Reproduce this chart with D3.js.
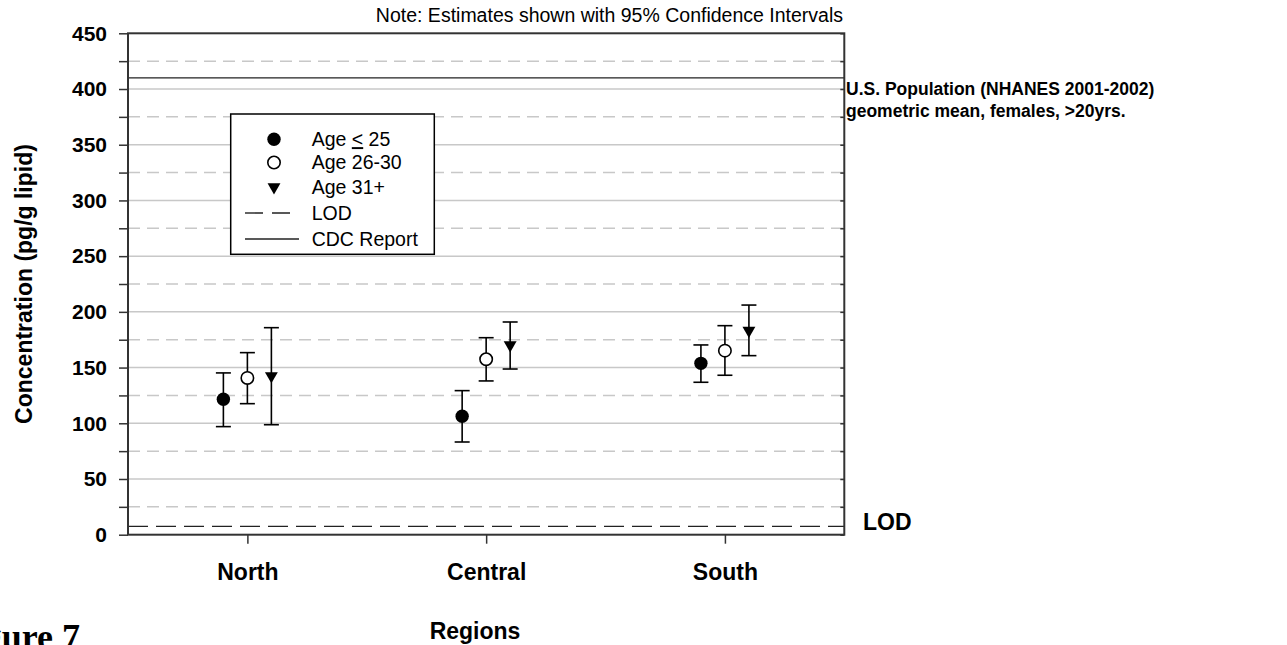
<!DOCTYPE html>
<html>
<head>
<meta charset="utf-8">
<script src="https://cdn.jsdelivr.net/npm/d3@7"></script>
<style>
  html, body { margin: 0; padding: 0; background: #fff; }
  svg { display: block; }
  text { font-family: "Liberation Sans", Arial, sans-serif; fill: #000; }
</style>
</head>
<body>
<svg id="chart" width="1287" height="645"></svg>
<script>
// ---- data ----
const categories = ["North", "Central", "South"];
const seriesNames = ["Age \u2264 25", "Age 26-30", "Age 31+"];
const meanAge25 = [121.5, 106.3, 153.8];
const lowAge25 = [97.0, 83.2, 136.8];
const highAge25 = [145.2, 129.3, 170.3];
const meanAge2630 = [140.7, 157.5, 165.2];
const lowAge2630 = [117.6, 138.0, 143.1];
const highAge2630 = [163.4, 176.8, 187.6];
const meanAge31 = [142.5, 170.3, 183.3];
const lowAge31 = [98.7, 148.7, 160.7];
const highAge31 = [185.8, 190.9, 206.1];
const yTicks = [0, 50, 100, 150, 200, 250, 300, 350, 400, 450];
const yMinorTicks = [25, 75, 125, 175, 225, 275, 325, 375, 425];
const lodValue = 7.5;
const cdcValue = 410;

// ---- layout ----
const svg = d3.select("#chart");
const L = 128, R = 844.3, T = 33.3, B = 534.7;
const y = d3.scaleLinear().domain([0, 450]).range([B, T]);
const x = d3.scalePoint().domain(categories).range([L, R]).padding(0.5);
const off = d3.scalePoint().domain(seriesNames).range([-24, 24]);

const series = [
  { name: seriesNames[0], mean: meanAge25, lo: lowAge25, hi: highAge25, shape: "filled" },
  { name: seriesNames[1], mean: meanAge2630, lo: lowAge2630, hi: highAge2630, shape: "open" },
  { name: seriesNames[2], mean: meanAge31, lo: lowAge31, hi: highAge31, shape: "tri" }
];

// gridlines
const grid = svg.append("g");
grid.selectAll("line.maj").data(yTicks.filter(d => d > 0 && d < 450)).join("line")
  .attr("x1", L).attr("x2", R).attr("y1", d => y(d)).attr("y2", d => y(d))
  .attr("stroke", "#c8c8c8").attr("stroke-width", 1.5);
grid.selectAll("line.min").data(yMinorTicks).join("line")
  .attr("x1", L).attr("x2", R).attr("y1", d => y(d)).attr("y2", d => y(d))
  .attr("stroke", "#c8c8c8").attr("stroke-width", 1.5).attr("stroke-dasharray", "12,7");

// CDC and LOD lines
svg.append("line").attr("x1", L).attr("x2", R).attr("y1", y(cdcValue)).attr("y2", y(cdcValue))
  .attr("stroke", "#222").attr("stroke-width", 1.4);
svg.append("line").attr("x1", L).attr("x2", R).attr("y1", y(lodValue)).attr("y2", y(lodValue))
  .attr("stroke", "#222").attr("stroke-width", 1.4).attr("stroke-dasharray", "20,8");

// frame
svg.append("rect").attr("x", L).attr("y", T).attr("width", R - L).attr("height", B - T)
  .attr("fill", "none").attr("stroke", "#333").attr("stroke-width", 2);

// left axis
const yAxis = d3.axisLeft(y).tickValues(yTicks).tickSize(9).tickSizeOuter(0).tickPadding(12);
const ga = svg.append("g").attr("transform", `translate(${L},0)`).call(yAxis);
ga.select(".domain").remove();
ga.selectAll(".tick line").attr("stroke", "#333").attr("stroke-width", 1.5);
ga.selectAll(".tick text").style("font-size", "21px").style("font-weight", "bold")
  .style("font-family", "Liberation Sans, Arial, sans-serif");
const gm = svg.append("g").attr("transform", `translate(${L},0)`)
  .call(d3.axisLeft(y).tickValues(yMinorTicks).tickSize(9).tickFormat(""));
gm.select(".domain").remove();
gm.selectAll(".tick line").attr("stroke", "#333").attr("stroke-width", 1.5);

// right axis inward ticks
const gr = svg.append("g").attr("transform", `translate(${R},0)`)
  .call(d3.axisLeft(y).tickValues(yTicks.concat(yMinorTicks)).tickSize(4).tickFormat(""));
gr.select(".domain").remove();
gr.selectAll(".tick line").attr("stroke", "#333").attr("stroke-width", 1.5);

// bottom axis
const gx = svg.append("g").attr("transform", `translate(0,${B})`)
  .call(d3.axisBottom(x).tickSize(9).tickSizeOuter(0).tickPadding(20));
gx.select(".domain").remove();
gx.selectAll(".tick line").attr("stroke", "#333").attr("stroke-width", 1.5);
gx.selectAll(".tick text").style("font-size", "23px").style("font-weight", "bold")
  .style("font-family", "Liberation Sans, Arial, sans-serif");

// error bars and markers
const pts = [];
series.forEach(s => categories.forEach((c, i) => pts.push({ s, c, i })));
const eb = svg.append("g").attr("stroke", "#000").attr("stroke-width", 1.6);
pts.forEach(p => {
  const cx = x(p.c) + off(p.s.name);
  eb.append("line").attr("x1", cx).attr("x2", cx).attr("y1", y(p.s.lo[p.i])).attr("y2", y(p.s.hi[p.i]));
  eb.append("line").attr("x1", cx - 7.5).attr("x2", cx + 7.5).attr("y1", y(p.s.lo[p.i])).attr("y2", y(p.s.lo[p.i]));
  eb.append("line").attr("x1", cx - 7.5).attr("x2", cx + 7.5).attr("y1", y(p.s.hi[p.i])).attr("y2", y(p.s.hi[p.i]));
});

function drawMarker(g, shape, cx, cy) {
  if (shape === "tri") {
    g.append("path").attr("d", d3.symbol(d3.symbolTriangle, 72)())
      .attr("transform", `translate(${cx},${cy}) rotate(180)`).attr("fill", "#000");
  } else {
    g.append("circle").attr("cx", cx).attr("cy", cy).attr("r", shape === "open" ? 6.2 : 6.7)
      .attr("fill", shape === "open" ? "#fff" : "#000").attr("stroke", "#000")
      .attr("stroke-width", shape === "open" ? 1.6 : 0);
  }
}
const mk = svg.append("g");
pts.forEach(p => drawMarker(mk, p.s.shape, x(p.c) + off(p.s.name), y(p.s.mean[p.i])));

// legend
const lg = svg.append("g");
lg.append("rect").attr("x", 230.7).attr("y", 114).attr("width", 203.6).attr("height", 140.3)
  .attr("fill", "#fff").attr("stroke", "#000").attr("stroke-width", 1.5);
const rowsY = [139.3, 162.5, 187, 213, 239];
series.forEach((s, k) => {
  drawMarker(lg, s.shape, 274, rowsY[k]);
});
lg.append("line").attr("x1", 245).attr("x2", 299).attr("y1", rowsY[3]).attr("y2", rowsY[3])
  .attr("stroke", "#222").attr("stroke-width", 1.4).attr("stroke-dasharray", "18,9");
lg.append("line").attr("x1", 245).attr("x2", 299).attr("y1", rowsY[4]).attr("y2", rowsY[4])
  .attr("stroke", "#222").attr("stroke-width", 1.4);
const legendFont = "19.5px";
const t0 = lg.append("text").attr("x", 311.7).attr("y", rowsY[0]).attr("dy", "0.35em").style("font-size", legendFont);
t0.append("tspan").text("Age ");
t0.append("tspan").text("<").style("text-decoration", "underline");
t0.append("tspan").text(" 25");
["Age 26-30", "Age 31+", "LOD", "CDC Report"].forEach((t, k) => {
  lg.append("text").attr("x", 311.7).attr("y", rowsY[k + 1]).attr("dy", "0.35em")
    .style("font-size", legendFont).text(t);
});

// texts
svg.append("text").attr("x", 843).attr("y", 22).attr("text-anchor", "end")
  .style("font-size", "19.5px").text("Note: Estimates shown with 95% Confidence Intervals");
svg.append("text").attr("transform", `translate(32,${(T + B) / 2}) rotate(-90)`).attr("text-anchor", "middle")
  .style("font-size", "23px").style("font-weight", "bold").text("Concentration (pg/g lipid)");
svg.append("text").attr("x", 475).attr("y", 639).attr("text-anchor", "middle")
  .style("font-size", "23px").style("font-weight", "bold").text("Regions");
svg.append("text").attr("x", 846).attr("y", 95)
  .style("font-size", "17.5px").style("font-weight", "bold").text("U.S. Population (NHANES 2001-2002)");
svg.append("text").attr("x", 846).attr("y", 117)
  .style("font-size", "17.5px").style("font-weight", "bold").text("geometric mean, females, >20yrs.");
svg.append("text").attr("x", 863).attr("y", 530)
  .style("font-size", "23px").style("font-weight", "bold").text("LOD");
svg.append("text").attr("x", 80).attr("y", 649).attr("text-anchor", "end")
  .style("font-size", "36px").style("font-weight", "bold")
  .style("font-family", "Liberation Serif, 'Times New Roman', serif").text("Figure 7");
</script>
</body>
</html>
